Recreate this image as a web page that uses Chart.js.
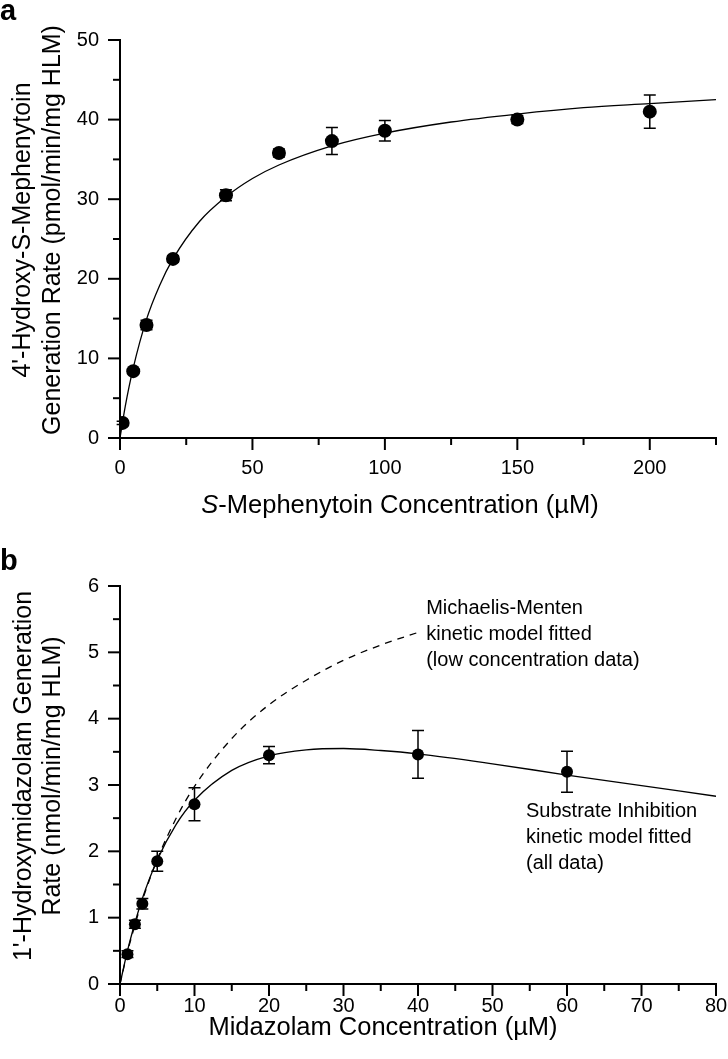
<!DOCTYPE html>
<html>
<head>
<meta charset="utf-8">
<script src="https://cdn.jsdelivr.net/npm/chart.js@4.4.1/dist/chart.umd.min.js"></script>
<style>
  html, body { margin: 0; padding: 0; background: #fff; overflow: hidden; }
  #wrap { position: relative; width: 728px; height: 1059px; }
  canvas { position: absolute; left: 0; }
  #chartA { top: 0; }
  #chartB { top: 520px; }
</style>
</head>
<body>
<div id="wrap">
  <canvas id="chartA" width="728" height="520"></canvas>
  <canvas id="chartB" width="728" height="539"></canvas>
</div>
<script>
const FONT = "'Liberation Sans', Arial, sans-serif";

// panel a - S-mephenytoin 4'-hydroxylation
const concA = [1, 5, 10, 20, 40, 60, 80, 100, 150, 200];
const rateA = [1.9, 8.4, 14.2, 22.5, 30.5, 35.8, 37.3, 38.6, 40.0, 41.0];
const errA = [0.2, 0.3, 0.6, 0.4, 0.7, 0.5, 1.7, 1.3, 0.5, 2.1];
// fitted curve
const fitConcA = [0, 2, 5, 10, 15, 20, 30, 40, 50, 60, 80, 100, 125, 150, 175, 200, 225];
const fitRateA = [0, 4.0, 8.8, 14.9, 19.2, 22.5, 27.2, 30.3, 32.6, 34.3, 36.7, 38.3, 39.7, 40.7, 41.5, 42.0, 42.5];

// panel b - midazolam 1'-hydroxylation
const concB = [1, 2, 3, 5, 10, 20, 40, 60];
const rateB = [0.45, 0.90, 1.21, 1.85, 2.71, 3.45, 3.46, 3.20];
const errB = [0.05, 0.06, 0.08, 0.15, 0.25, 0.13, 0.36, 0.31];
// substrate inhibition fit (all data)
const siConcB = [0, 1, 2, 3, 5, 7.5, 10, 15, 20, 25, 30, 35, 40, 50, 60, 70, 80];
const siRateB = [0, 0.50, 0.92, 1.29, 1.87, 2.40, 2.77, 3.22, 3.44, 3.53, 3.55, 3.52, 3.47, 3.32, 3.15, 2.99, 2.83];
// michaelis-menten fit (low concentration data)
const mmConcB = [0, 1, 2, 3, 5, 7.5, 10, 15, 20, 25, 30, 35, 40];
const mmRateB = [0, 0.48, 0.89, 1.26, 1.88, 2.49, 2.98, 3.70, 4.21, 4.58, 4.88, 5.11, 5.30];

const notesB = [
  { x: 41.1, y: 5.66, lines: ['Michaelis-Menten', 'kinetic model fitted', '(low concentration data)'] },
  { x: 54.5, y: 2.60, lines: ['Substrate Inhibition', 'kinetic model fitted', '(all data)'] }
];

const toXY = (xs, ys) => xs.map((x, i) => ({ x: x, y: ys[i] }));

const isMajor = (v, step) => Math.abs(v / step - Math.round(v / step)) < 1e-6;

/**
 * 軸の目盛り線（長短）・エラーバー・文字をまとめて描くプラグイン
 */
const decorPlugin = {
  id: 'decor',
  beforeDatasetsDraw(chart, args, opts) {
    // error bars under the markers
    const ctx = chart.ctx;
    const xs = chart.scales.x, ys = chart.scales.y;
    ctx.save();
    ctx.strokeStyle = '#000';
    ctx.lineWidth = 1.5;
    opts.conc.forEach((c, i) => {
      const px = xs.getPixelForValue(c);
      const top = ys.getPixelForValue(opts.rate[i] + opts.err[i]);
      const bot = ys.getPixelForValue(opts.rate[i] - opts.err[i]);
      ctx.beginPath();
      ctx.moveTo(px, top); ctx.lineTo(px, bot);
      ctx.moveTo(px - 6, top); ctx.lineTo(px + 6, top);
      ctx.moveTo(px - 6, bot); ctx.lineTo(px + 6, bot);
      ctx.stroke();
    });
    ctx.restore();
  },
  afterDraw(chart, args, opts) {
    const ctx = chart.ctx;
    const xs = chart.scales.x, ys = chart.scales.y;
    ctx.save();
    ctx.strokeStyle = '#000';
    ctx.fillStyle = '#000';
    ctx.lineWidth = 2;
    xs.ticks.forEach(t => {
      const px = xs.getPixelForValue(t.value);
      const len = isMajor(t.value, opts.xMajor) ? 12 : 7;
      ctx.beginPath(); ctx.moveTo(px, xs.top); ctx.lineTo(px, xs.top + len); ctx.stroke();
    });
    ys.ticks.forEach(t => {
      const py = ys.getPixelForValue(t.value);
      const len = isMajor(t.value, opts.yMajor) ? 12 : 7;
      ctx.beginPath(); ctx.moveTo(ys.right, py); ctx.lineTo(ys.right - len, py); ctx.stroke();
    });

    // panel letter
    ctx.font = 'bold 29px ' + FONT;
    ctx.textAlign = 'left';
    ctx.textBaseline = 'alphabetic';
    ctx.fillText(opts.letter, 0, opts.letterY);

    // y title, two lines
    ctx.font = '25px ' + FONT;
    ctx.textAlign = 'center';
    ctx.textBaseline = 'middle';
    opts.yTitle.forEach((line, i) => {
      ctx.save();
      ctx.translate(opts.yTitleX[i], opts.yTitleY);
      ctx.rotate(-Math.PI / 2);
      ctx.fillText(line, 0, 0);
      ctx.restore();
    });

    // x title, first part may be italic
    ctx.textAlign = 'left';
    const parts = opts.xTitle;
    let total = 0;
    parts.forEach(p => {
      ctx.font = (p.italic ? 'italic ' : '') + '25.5px ' + FONT;
      total += ctx.measureText(p.text).width;
    });
    let cx = opts.xTitleX - total / 2;
    parts.forEach(p => {
      ctx.font = (p.italic ? 'italic ' : '') + '25.5px ' + FONT;
      ctx.fillText(p.text, cx, opts.xTitleY);
      cx += ctx.measureText(p.text).width;
    });

    // notes placed in data space
    ctx.font = '20px ' + FONT;
    (opts.notes || []).forEach(n => {
      const nx = xs.getPixelForValue(n.x);
      const ny = ys.getPixelForValue(n.y);
      n.lines.forEach((line, i) => ctx.fillText(line, nx, ny + i * 26));
    });
    ctx.restore();
  }
};

const makeScales = (o) => ({
  x: {
    type: 'linear', min: o.xMin, max: o.xMax,
    border: { display: true, color: '#000', width: 2 },
    grid: { display: false, drawTicks: false },
    ticks: {
      stepSize: o.xStep, autoSkip: false, maxRotation: 0, padding: o.xPad,
      color: '#000', font: { family: FONT, size: 20 },
      callback: (v) => isMajor(v, o.xMajor) ? v : ''
    },
    afterFit: (s) => { s.height = o.xHeight; s.paddingLeft = 0; s.paddingRight = 0; }
  },
  y: {
    type: 'linear', min: o.yMin, max: o.yMax,
    border: { display: true, color: '#000', width: 2 },
    grid: { display: false, drawTicks: false },
    ticks: {
      stepSize: o.yStep, autoSkip: false, padding: 21,
      color: '#000', font: { family: FONT, size: 20 },
      callback: (v) => isMajor(v, o.yMajor) ? v : ''
    },
    afterFit: (s) => { s.width = 120; }
  }
});

const lineSet = (data, dash) => ({
  type: 'line', data: data, showLine: true, pointRadius: 0,
  borderColor: '#000', borderWidth: 1.3, borderDash: dash || [],
  cubicInterpolationMode: 'monotone', fill: false, order: 2
});

const pointSet = (data, r) => ({
  type: 'scatter', data: data, pointRadius: r, pointHoverRadius: r,
  backgroundColor: '#000', borderColor: '#000', borderWidth: 0, order: 1
});

new Chart(document.getElementById('chartA').getContext('2d'), {
  type: 'scatter',
  data: {
    datasets: [
      lineSet(toXY(fitConcA, fitRateA)),
      pointSet(toXY(concA, rateA), 7)
    ]
  },
  options: {
    responsive: false, animation: false, devicePixelRatio: 1,
    layout: { padding: { top: 40, right: 12, left: 0, bottom: 0 } },
    plugins: {
      legend: { display: false }, tooltip: { enabled: false },
      decor: {
        conc: concA, rate: rateA, err: errA, xMajor: 50, yMajor: 10,
        letter: 'a', letterY: 20,
        yTitle: ["4'-Hydroxy-S-Mephenytoin", 'Generation Rate (pmol/min/mg HLM)'],
        yTitleX: [23, 53], yTitleY: 230,
        xTitle: [{ text: 'S', italic: true }, { text: '-Mephenytoin Concentration (\u00b5M)' }],
        xTitleX: 400, xTitleY: 506
      }
    },
    scales: makeScales({ xMin: 0, xMax: 225, xStep: 25, xMajor: 50, xPad: 18, xHeight: 82,
                         yMin: 0, yMax: 50, yStep: 5, yMajor: 10 })
  },
  plugins: [decorPlugin]
});

new Chart(document.getElementById('chartB').getContext('2d'), {
  type: 'scatter',
  data: {
    datasets: [
      lineSet(toXY(mmConcB, mmRateB), [7, 6]),
      lineSet(toXY(siConcB, siRateB)),
      pointSet(toXY(concB, rateB), 6)
    ]
  },
  options: {
    responsive: false, animation: false, devicePixelRatio: 1,
    layout: { padding: { top: 66, right: 12, left: 0, bottom: 0 } },
    plugins: {
      legend: { display: false }, tooltip: { enabled: false },
      decor: {
        conc: concB, rate: rateB, err: errB, xMajor: 10, yMajor: 1,
        letter: 'b', letterY: 50,
        yTitle: ["1'-Hydroxymidazolam Generation", 'Rate (nmol/min/mg HLM)'],
        yTitleX: [24, 53], yTitleY: 256,
        xTitle: [{ text: 'Midazolam Concentration (\u00b5M)' }],
        xTitleX: 383, xTitleY: 508,
        notes: notesB
      }
    },
    scales: makeScales({ xMin: 0, xMax: 80, xStep: 5, xMajor: 10, xPad: 10, xHeight: 75,
                         yMin: 0, yMax: 6, yStep: 0.5, yMajor: 1 })
  },
  plugins: [decorPlugin]
});
</script>
</body>
</html>
